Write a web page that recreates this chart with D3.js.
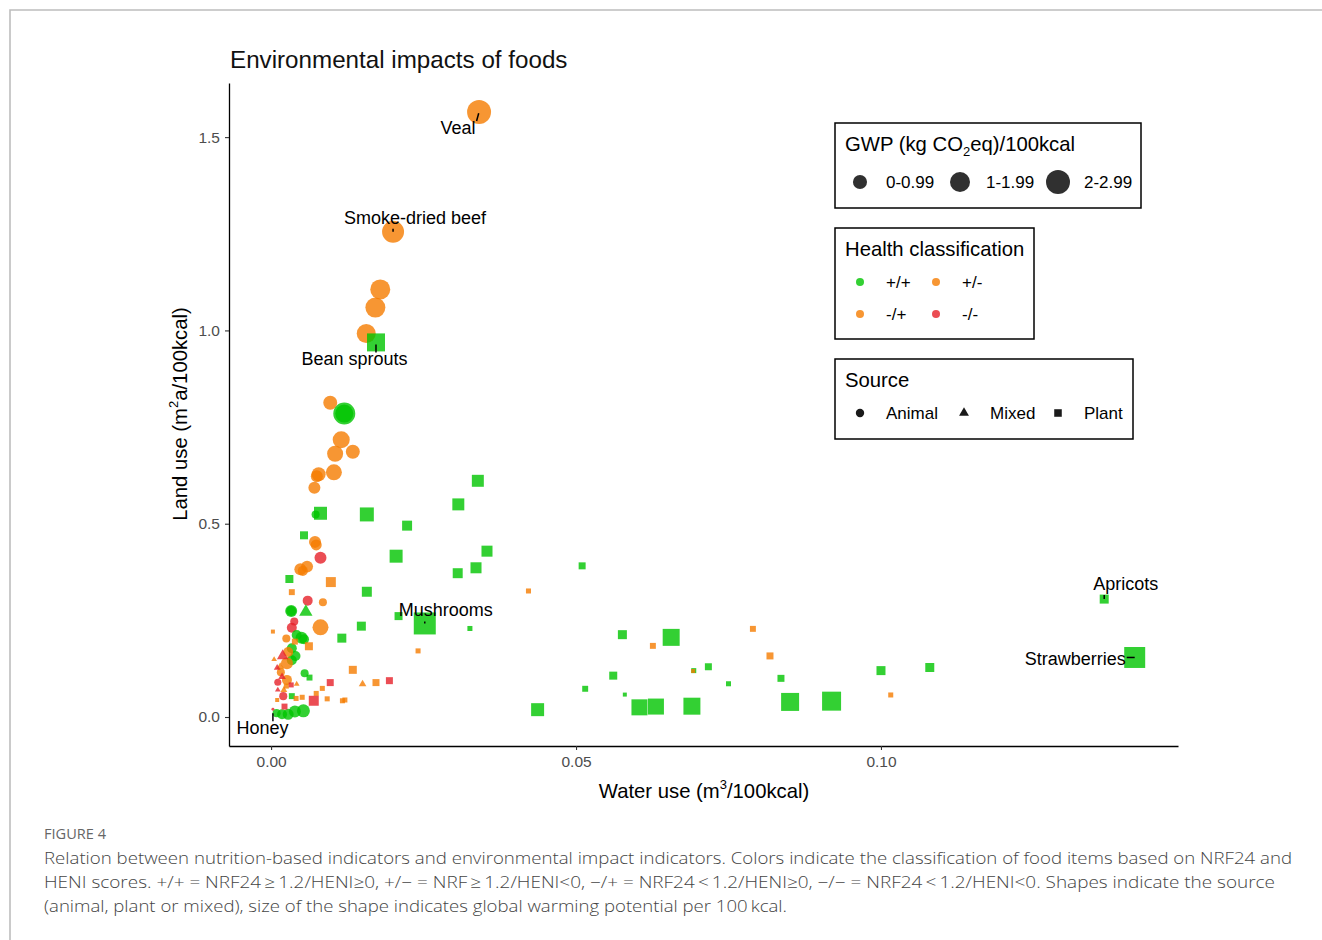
<!DOCTYPE html>
<html><head><meta charset="utf-8">
<script src="https://cdn.jsdelivr.net/npm/d3@7"></script>
<style>body{margin:0;background:#fff}</style>
</head><body>
<svg id="c" width="1322" height="940"></svg>
<script>
// [water use, land use, GWP, health class]
const animalPoints = [
[0.0341,1.565,2.76,"+/-"],[0.0200,1.255,2.32,"+/-"],[0.0179,1.106,1.92,"+/-"],[0.0171,1.059,1.92,"+/-"],
[0.0156,0.992,1.73,"+/-"],[0.0097,0.813,0.94,"+/-"],[0.0120,0.785,2.32,"+/+"],[0.0120,0.785,1.56,"+/+"],
[0.0115,0.717,1.39,"+/-"],[0.0105,0.681,1.23,"+/-"],[0.0134,0.686,0.94,"+/-"],[0.0103,0.633,1.23,"+/-"],
[0.0078,0.628,0.94,"+/-"],[0.0075,0.623,0.69,"+/-"],[0.0071,0.593,0.69,"+/-"],[0.0073,0.524,0.31,"+/+"],
[0.0072,0.453,0.69,"+/-"],[0.0074,0.445,0.58,"+/-"],[0.0081,0.412,0.69,"-/-"],[0.0059,0.389,0.69,"+/-"],
[0.0048,0.382,0.69,"+/-"],[0.0052,0.378,0.48,"+/-"],[0.0060,0.301,0.48,"-/-"],[0.0085,0.297,0.31,"+/-"],
[0.0033,0.274,0.69,"+/+"],[0.0033,0.274,0.48,"+/+"],[0.0038,0.247,0.31,"-/-"],[0.0034,0.231,0.48,"-/-"],
[0.0081,0.232,1.23,"+/-"],[0.0025,0.203,0.31,"+/-"],[0.0042,0.212,0.48,"+/+"],[0.0050,0.205,0.69,"+/+"],
[0.0054,0.201,0.48,"+/+"],[0.0034,0.178,0.48,"+/+"],[0.0040,0.158,0.48,"+/+"],[0.0034,0.147,0.48,"+/+"],
[0.0026,0.139,0.69,"+/-"],[0.0028,0.168,0.48,"+/-"],[0.0055,0.113,0.31,"+/+"],[0.0026,0.096,0.48,"-/+"],
[0.0016,0.116,0.31,"+/-"],[0.0011,0.090,0.24,"-/-"],[0.0020,0.054,0.31,"-/-"],[0.0053,0.016,0.81,"+/+"],
[0.0039,0.014,0.69,"+/+"],[0.0028,0.007,0.58,"+/+"],[0.0018,0.007,0.48,"+/+"],[0.0009,0.010,0.31,"+/+"],
[0.0003,0.020,0.04,"-/-"]
];
const mixedPoints = [
[0.0057,0.272,0.94,"+/+"],[0.0019,0.158,0.69,"-/-"],[0.0005,0.149,0.17,"-/+"],[0.0015,0.130,0.31,"-/+"],
[0.0010,0.127,0.24,"-/-"],[0.0018,0.104,0.31,"-/-"],[0.0042,0.085,0.17,"-/+"],[0.0150,0.085,0.31,"-/+"],
[0.0011,0.070,0.17,"-/-"],[0.0021,0.070,0.24,"-/+"]
];
const plantPoints = [
[0.0172,0.969,1.92,"+/+"],[0.0252,0.242,2.87,"+/+"],[0.1366,0.305,0.48,"+/+"],[0.1416,0.154,2.61,"+/+"],
[0.0339,0.611,0.85,"+/+"],[0.0307,0.550,0.85,"+/+"],[0.0223,0.495,0.59,"+/+"],[0.0205,0.416,1.00,"+/+"],
[0.0354,0.429,0.72,"+/+"],[0.0336,0.386,0.72,"+/+"],[0.0306,0.372,0.59,"+/+"],[0.0510,0.391,0.29,"+/+"],
[0.0209,0.261,0.38,"+/+"],[0.0326,0.229,0.15,"+/+"],[0.0576,0.213,0.48,"+/+"],[0.0656,0.206,1.71,"+/+"],
[0.0717,0.130,0.29,"+/+"],[0.0693,0.120,0.15,"+/+"],[0.0561,0.107,0.38,"+/+"],[0.0515,0.073,0.21,"+/+"],
[0.0580,0.058,0.095,"+/+"],[0.0437,0.019,1.00,"+/+"],[0.0604,0.025,1.52,"+/+"],[0.0631,0.027,1.52,"+/+"],
[0.0690,0.028,1.71,"+/+"],[0.0750,0.086,0.15,"+/+"],[0.0836,0.100,0.29,"+/+"],[0.1000,0.120,0.48,"+/+"],
[0.1080,0.128,0.48,"+/+"],[0.0851,0.039,1.92,"+/+"],[0.0919,0.041,2.14,"+/+"],[0.0081,0.527,1.00,"+/+"],
[0.0157,0.524,1.16,"+/+"],[0.0054,0.470,0.38,"+/+"],[0.0030,0.357,0.38,"+/+"],[0.0157,0.324,0.59,"+/+"],
[0.0148,0.235,0.48,"+/+"],[0.0116,0.204,0.48,"+/+"],[0.0063,0.102,0.21,"+/+"],[0.0034,0.054,0.21,"+/+"],
[0.0098,0.349,0.59,"-/+"],[0.0034,0.323,0.21,"-/+"],[0.0003,0.221,0.095,"-/+"],[0.0062,0.183,0.38,"-/+"],
[0.0039,0.195,0.21,"-/+"],[0.0134,0.122,0.38,"-/+"],[0.0172,0.089,0.29,"-/+"],[0.0084,0.074,0.15,"-/+"],
[0.0074,0.061,0.15,"-/+"],[0.0092,0.047,0.15,"-/+"],[0.0121,0.044,0.15,"-/+"],[0.0117,0.042,0.15,"-/+"],
[0.0041,0.048,0.15,"-/+"],[0.0051,0.051,0.15,"-/+"],[0.0422,0.326,0.15,"-/+"],[0.0241,0.171,0.15,"-/+"],
[0.0626,0.184,0.21,"-/+"],[0.0692,0.119,0.095,"-/+"],[0.0790,0.228,0.21,"-/+"],[0.0818,0.158,0.29,"-/+"],
[0.1016,0.057,0.15,"-/+"],[0.0025,0.080,0.15,"-/+"],[0.0010,0.044,0.095,"-/+"],
[0.0097,0.089,0.29,"-/-"],[0.0194,0.094,0.29,"-/-"],[0.0070,0.042,0.59,"-/-"],[0.0033,0.083,0.15,"-/-"],
[0.0022,0.027,0.21,"-/-"]
];
const labelNames = ["Veal","Smoke-dried beef","Bean sprouts","Mushrooms","Apricots","Strawberries","Honey"];
const labelWater = [0.0341,0.0200,0.0172,0.0252,0.1366,0.1416,0.0003];
const labelLand  = [1.565,1.255,0.969,0.242,0.305,0.154,0.020];
const xTicks = [0, 0.05, 0.10];
const yTicks = [0, 0.5, 1.0, 1.5];
const healthClasses = ["+/+","+/-","-/+","-/-"];
const sourceClasses = ["Animal","Mixed","Plant"];
const gwpLegendLabels = ["0-0.99","1-1.99","2-2.99"];
const gwpLegendValues = [0.95, 1.92, 2.76];

const FONT = "'Liberation Sans', Arial, sans-serif";
const svg = d3.select('#c');
svg.append('rect').attr('width',1322).attr('height',940).attr('fill','#fff');
svg.append('path').attr('d','M10,940V10H1322').attr('fill','none').attr('stroke','#bdbdbd').attr('stroke-width',1.6);

const x = d3.scaleLinear().domain([-0.0069, 0.1487]).range([229, 1178]);
const y = d3.scaleLinear().domain([-0.075, 1.64]).range([746, 83]);
const r = d3.scaleSqrt().domain([0, 3]).range([0, 12.5]);
const color = d3.scaleOrdinal().domain(healthClasses).range(["#00c400","#f57c00","#f57c00","#e62129"]);
const OP = 0.8;

// title
svg.append('text').attr('x',230).attr('y',68).attr('font-family',FONT).attr('font-size',24.2)
  .attr('fill','#111').text('Environmental impacts of foods');

// axes
const gx = svg.append('g').attr('transform','translate(0,746)')
  .call(d3.axisBottom(x).tickValues(xTicks).tickFormat(d3.format('.2f')).tickSize(4).tickSizeOuter(0).tickPadding(6));
const gy = svg.append('g').attr('transform','translate(229,0)')
  .call(d3.axisLeft(y).tickValues(yTicks).tickFormat(d3.format('.1f')).tickSize(4).tickSizeOuter(0).tickPadding(5));
[gx, gy].forEach(g => {
  g.select('.domain').attr('stroke','#000').attr('stroke-width',1.3);
  g.selectAll('.tick line').attr('stroke','#333').attr('stroke-width',1.1);
  g.selectAll('.tick text').attr('font-family',FONT).attr('font-size',15.5).attr('fill','#4d4d4d');
});

// axis titles
const xt = svg.append('text').attr('x',704).attr('y',798).attr('text-anchor','middle')
  .attr('font-family',FONT).attr('font-size',20.3).attr('fill','#000');
xt.append('tspan').text('Water use (m');
xt.append('tspan').attr('dy',-9).attr('font-size',13).text('3');
xt.append('tspan').attr('dy',9).text('/100kcal)');
const yt = svg.append('text').attr('transform','translate(187,414) rotate(-90)').attr('text-anchor','middle')
  .attr('font-family',FONT).attr('font-size',20.3).attr('fill','#000');
yt.append('tspan').text('Land use (m');
yt.append('tspan').attr('dy',-9).attr('font-size',13).text('2');
yt.append('tspan').attr('dy',9).text('a/100kcal)');

// points
const plot = svg.append('g');
const rows = [];
animalPoints.forEach(d => rows.push({w:d[0], l:d[1], g:d[2], h:d[3], s:"Animal"}));
mixedPoints.forEach(d => rows.push({w:d[0], l:d[1], g:d[2], h:d[3], s:"Mixed"}));
plantPoints.forEach(d => rows.push({w:d[0], l:d[1], g:d[2], h:d[3], s:"Plant"}));
function shapePath(s, rad) {
  if (s === 'Animal') return d3.symbol(d3.symbolCircle, Math.PI*rad*rad)();
  if (s === 'Mixed') return d3.symbol(d3.symbolTriangle, 0.5*Math.PI*rad*rad)();
  const side = 1.8*rad; return d3.symbol(d3.symbolSquare, side*side)();
}
plot.selectAll('path.pt').data(rows).join('path').attr('class','pt')
  .attr('transform', d => `translate(${x(d.w)},${y(d.l)})`)
  .attr('d', d => shapePath(d.s, r(d.g)))
  .attr('fill', d => color(d.h)).attr('fill-opacity', OP);

// labels (repel-style offsets in pixels, segment from point to the label box)
const offs = {"Veal":[-21,22],"Smoke-dried beef":[22,-8],"Bean sprouts":[-21.5,23],"Mushrooms":[21,-7],
  "Apricots":[21.5,-9],"Strawberries":[-59.5,8],"Honey":[-10.5,25]};
labelNames.forEach((n,i) => {
  const px = x(labelWater[i]), py = y(labelLand[i]);
  const t = svg.append('text').attr('x',px+offs[n][0]).attr('y',py+offs[n][1]).attr('text-anchor','middle')
    .attr('font-family',FONT).attr('font-size',18).attr('fill','#000').text(n);
  const b = t.node().getBBox();
  const nx = Math.max(b.x-1, Math.min(px, b.x+b.width+1));
  const ny = Math.max(b.y+3, Math.min(py, b.y+b.height+1));
  const dx = nx-px, dy = ny-py, len = Math.hypot(dx,dy);
  const L = Math.min(len, 8);
  if (len > 0) svg.append('line').attr('x1',nx).attr('y1',ny).attr('x2',nx-dx/len*L).attr('y2',ny-dy/len*L)
    .attr('stroke','#000').attr('stroke-width',1.5);
});

// legends
function box(x0,y0,w,h){
  svg.append('rect').attr('x',x0).attr('y',y0).attr('width',w).attr('height',h)
    .attr('fill','#fff').attr('stroke','#000').attr('stroke-width',1.5);
  return svg.append('text').attr('x',x0+10).attr('y',y0+28).attr('font-family',FONT).attr('font-size',20.3).attr('fill','#000');
}
const t1 = box(835,123,306,85);
t1.append('tspan').text('GWP (kg CO');
t1.append('tspan').attr('dy',5).attr('font-size',13).text('2');
t1.append('tspan').attr('dy',-5).text('eq)/100kcal');
[860,960,1058].forEach((cx,i) => {
  svg.append('circle').attr('cx',cx).attr('cy',182).attr('r',r(gwpLegendValues[i])).attr('fill','#1a1a1a').attr('fill-opacity',0.9);
  svg.append('text').attr('x',cx+26).attr('y',188).attr('font-family',FONT).attr('font-size',17).attr('fill','#000').text(gwpLegendLabels[i]);
});
box(835,228,199,111).text('Health classification');
healthClasses.forEach((h,i) => {
  const cx = i%2===0 ? 860 : 936, cy = i<2 ? 282 : 314;
  svg.append('circle').attr('cx',cx).attr('cy',cy).attr('r',4).attr('fill',color(h)).attr('fill-opacity',OP);
  svg.append('text').attr('x',cx+26).attr('y',cy+6).attr('font-family',FONT).attr('font-size',17).attr('fill','#000').text(h);
});
box(835,359,298,80).text('Source');
sourceClasses.forEach((s,i) => {
  const cx = [860,964,1058][i];
  svg.append('path').attr('transform',`translate(${cx},413)`).attr('d',shapePath(s, s==='Mixed'?5.2:4.2)).attr('fill','#1a1a1a');
  svg.append('text').attr('x',cx+26).attr('y',419).attr('font-family',FONT).attr('font-size',17).attr('fill','#000').text(s);
});

// caption
const CF = "'Open Sans', Lato, sans-serif";
svg.append('text').attr('x',44).attr('y',839).attr('font-family',CF).attr('font-size',14).attr('fill','#666')
  .attr('textLength',62).attr('lengthAdjust','spacingAndGlyphs').text('FIGURE 4');
const cap = [
 ["Relation between nutrition-based indicators and environmental impact indicators. Colors indicate the classification of food items based on NRF24 and",1248],
 ["HENI scores. +/+ = NRF24\u2009\u2265\u20091.2/HENI\u22650, +/\u2212 = NRF\u2009\u2265\u20091.2/HENI<0, \u2212/+ = NRF24\u2009<\u20091.2/HENI\u22650, \u2212/\u2212 = NRF24\u2009<\u20091.2/HENI<0. Shapes indicate the source",1231],
 ["(animal, plant or mixed), size of the shape indicates global warming potential per 100\u2009kcal.",743]
];
cap.forEach((c,i) => {
  svg.append('text').attr('x',44).attr('y',864+24*i).attr('font-family',CF).attr('font-size',16.5).attr('font-weight',300)
    .attr('fill','#444').attr('textLength',c[1]).attr('lengthAdjust','spacingAndGlyphs').text(c[0]);
});
</script>
</body></html>
